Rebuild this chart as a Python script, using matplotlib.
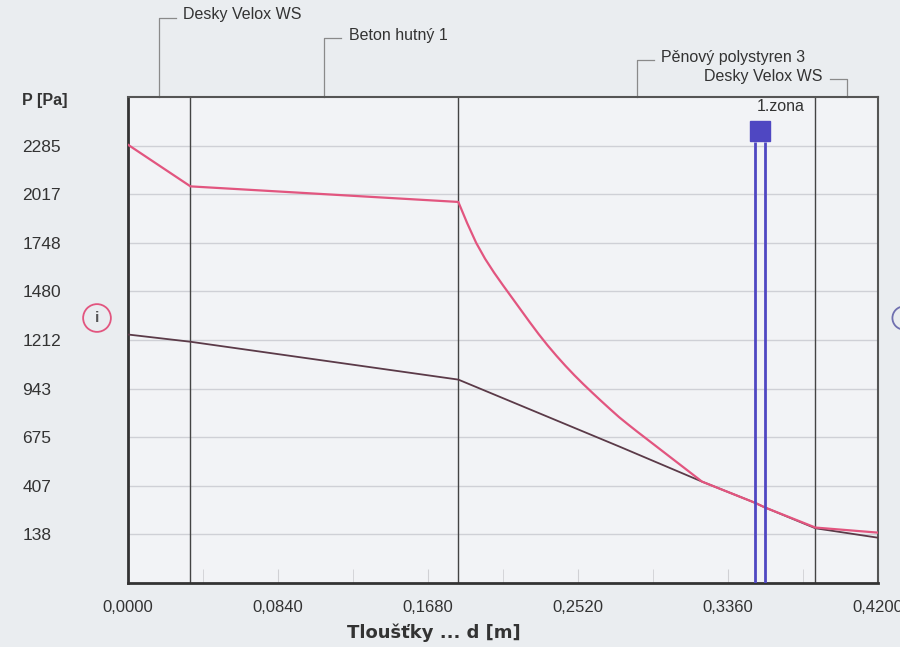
import matplotlib
matplotlib.use("Agg")
import matplotlib.pyplot as plt
from matplotlib import font_manager
from matplotlib.transforms import blended_transform_factory

# layers of the construction (boundaries in m)
layer_bounds = [0.0, 0.035, 0.185, 0.385, 0.42]
layer_names = ["Desky Velox WS", "Beton hutný 1", "Pěnový polystyren 3", "Desky Velox WS"]

# saturated vapour pressure (pink)
psat_x = [0.0, 0.035, 0.185, 0.190, 0.195, 0.200, 0.205, 0.210, 0.215, 0.220, 0.225, 0.230,
          0.235, 0.240, 0.245, 0.250, 0.255, 0.260, 0.265, 0.270, 0.275, 0.280, 0.285, 0.290,
          0.295, 0.300, 0.305, 0.310, 0.315, 0.320, 0.3214, 0.3511, 0.3567, 0.385, 0.42]
psat_y = [2290, 2060, 1974, 1856, 1748, 1660, 1584, 1514, 1446, 1378, 1310, 1244,
          1182, 1124, 1069, 1017, 968, 921, 875, 830, 786, 746, 707, 669,
          631, 593, 555, 517, 479, 441, 430, 313, 287, 176, 148]

# partial vapour pressure (dark)
p_x = [0.0, 0.035, 0.185, 0.2755, 0.3214, 0.3511, 0.3567, 0.385, 0.42]
p_y = [1242, 1202, 993, 622, 430, 313, 287, 172, 120]

# condensation zone
zone_x = [0.3511, 0.3567]
zone_name = "1.zona"

x_ticks = [0.0, 0.084, 0.168, 0.252, 0.336, 0.42]
x_labels = ["0,0000", "0,0840", "0,1680", "0,2520", "0,3360", "0,4200"]
x_minor = [0.042, 0.126, 0.21, 0.294, 0.378]
y_ticks = [138, 407, 675, 943, 1212, 1480, 1748, 2017, 2285]
y_min, y_max = -130.2, 2553.6

names = {f.name for f in font_manager.fontManager.ttflist}
narrow = "Liberation Sans Narrow" if "Liberation Sans Narrow" in names else "Liberation Sans"
plt.rcParams["font.family"] = [narrow, "DejaVu Sans"]

pink = "#e2557f"
dark = "#5b3a48"
blue = "#4f47c2"

fig = plt.figure(figsize=(9, 6.47), dpi=100, facecolor="#eaedf0")
ax = fig.add_axes([0.1422, 0.0989, 0.8333, 0.7512], facecolor="#f2f3f6")

ax.set_xlim(0, 0.42)
ax.set_ylim(y_min, y_max)

for y in y_ticks:
  ax.axhline(y, color="#cfd0d6", lw=1, zorder=1)

for b in layer_bounds[1:-1]:
  ax.axvline(b, color="#444444", lw=1, zorder=2)

ax.plot(psat_x, psat_y, color=pink, lw=1.6, zorder=4)
ax.plot(p_x, p_y, color=dark, lw=1.3, zorder=3)

trans = blended_transform_factory(ax.transData, ax.transAxes)
ax.vlines(zone_x, 0, 0.907, transform=trans, color=blue, lw=2, zorder=5)
zc = sum(zone_x) / 2
ax.plot([zc], [0.93], "s", transform=trans, ms=15, color=blue, mec=blue, zorder=6, clip_on=False)
ax.text(zone_x[0] + 0.001, 0.981, zone_name, transform=trans, ha="left", va="center", fontsize=11.5, color="#333333")

# leaders to layer names above the plot
levels = [0.163, 0.121, 0.076, 0.037]
sides = [1, 1, 1, -1]
stub = 0.0095
for i, name in enumerate(layer_names):
  mid = (layer_bounds[i] + layer_bounds[i + 1]) / 2
  lv = levels[i]
  s = sides[i]
  ax.plot([mid, mid, mid + s * stub], [1.0, lv + 1, lv + 1], transform=trans,
          color="#8a8a8a", lw=0.9, clip_on=False)
  ax.text(mid + s * (stub + 0.004), 1 + lv + 0.006, name, transform=trans,
          ha="left" if s > 0 else "right", va="center", fontsize=11.5, color="#333333")

for side in ["left", "bottom"]:
  ax.spines[side].set_color("#333333")
  ax.spines[side].set_linewidth(2)
for side in ["top", "right"]:
  ax.spines[side].set_color("#555555")
  ax.spines[side].set_linewidth(1.5)

ax.set_xticks(x_ticks)
ax.set_xticklabels(x_labels)
ax.set_xticks(x_minor, minor=True)
ax.tick_params(axis="x", which="both", direction="in", length=10, color="#d0d0d4", pad=12,
               labelsize=12, labelcolor="#333333")
ax.set_yticks(y_ticks)
ax.set_yticklabels([str(v) for v in y_ticks])
ax.tick_params(axis="y", length=0, pad=76, labelsize=12.5, labelcolor="#333333")
for lab in ax.get_yticklabels():
  lab.set_horizontalalignment("left")

fig.text(22 / 900, 1 - 100 / 647, "P [Pa]", fontsize=11.5, fontweight="bold", family="Liberation Sans",
         color="#333333", ha="left", va="center")
fig.text(434 / 900, 1 - 633 / 647, "Tloušťky ... d [m]", fontsize=13, fontweight="bold",
         family="DejaVu Sans", color="#333333", ha="center", va="center")

fig.text(97 / 900, 1 - 318 / 647, "i", fontsize=11, fontweight="bold", color="#555555", ha="center", va="center",
         bbox=dict(boxstyle="circle,pad=0.45", fc="none", ec=pink, lw=1.3))
fig.text(904 / 900, 1 - 318 / 647, "e", fontsize=11, color="#555555", ha="center", va="center",
         bbox=dict(boxstyle="circle,pad=0.3", fc="none", ec="#7070b0", lw=1.3))

fig.savefig("out.png", dpi=100, facecolor=fig.get_facecolor())
